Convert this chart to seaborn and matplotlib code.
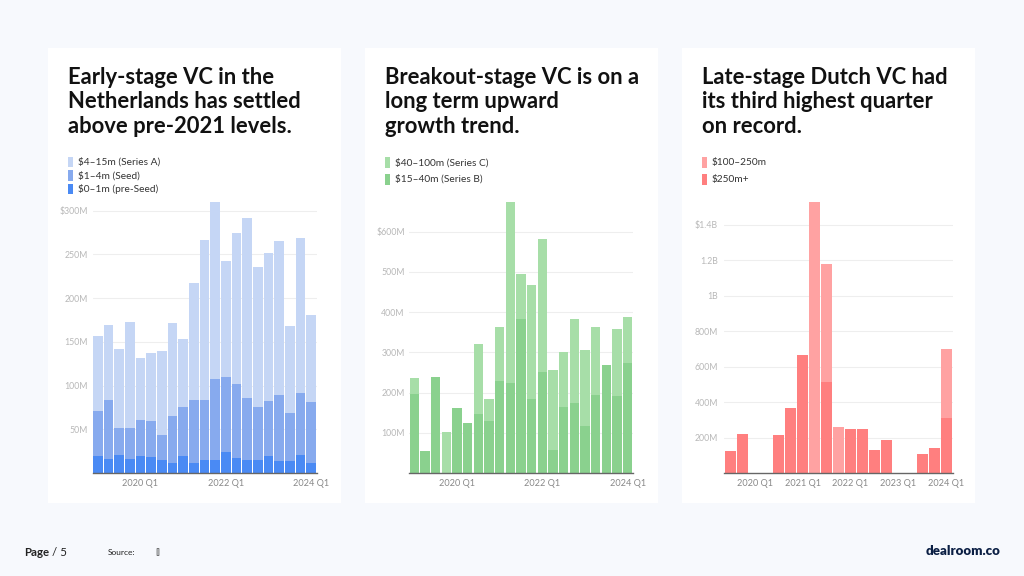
import matplotlib
matplotlib.use("Agg")
import matplotlib.pyplot as plt
from matplotlib.patches import Rectangle
import seaborn as sns

# ---------------- data ----------------
early_quarters = ["2019 Q1", "2019 Q2", "2019 Q3", "2019 Q4", "2020 Q1", "2020 Q2", "2020 Q3",
                  "2020 Q4", "2021 Q1", "2021 Q2", "2021 Q3", "2021 Q4", "2022 Q1", "2022 Q2",
                  "2022 Q3", "2022 Q4", "2023 Q1", "2023 Q2", "2023 Q3", "2023 Q4", "2024 Q1"]
pre_seed = [20, 16, 21, 16, 19, 18, 15, 11, 20, 12, 15, 15, 24, 17, 15, 15, 20, 14, 14, 21, 12]
seed = [51, 68, 30, 36, 42, 42, 29, 54, 55, 72, 69, 92, 86, 85, 71, 60, 62, 75, 55, 71, 69]
series_a = [86, 85, 91, 121, 70, 77, 96, 106, 78, 133, 182, 203, 132, 173, 206, 161, 170, 176, 99, 177, 100]

series_b = [197, 55, 239, 0, 162, 124, 147, 130, 229, 224, 384, 185, 252, 58, 163, 173, 118, 193, 269, 192, 274]
series_c = [40, 0, 0, 103, 0, 0, 173, 55, 133, 450, 111, 283, 329, 197, 138, 209, 187, 169, 0, 166, 113]

late_quarters = ["2019 Q3", "2019 Q4", "2020 Q1", "2020 Q2", "2020 Q3", "2020 Q4", "2021 Q1",
                 "2021 Q2", "2021 Q3", "2021 Q4", "2022 Q1", "2022 Q2", "2022 Q3", "2022 Q4",
                 "2023 Q1", "2023 Q2", "2023 Q3", "2023 Q4", "2024 Q1"]
mega_250 = [128, 220, 0, 0, 216, 367, 665, 0, 517, 0, 248, 252, 132, 186, 0, 0, 111, 141, 314]
large_100_250 = [0, 0, 0, 0, 0, 0, 0, 1532, 661, 259, 0, 0, 0, 0, 0, 0, 0, 0, 387]

titles = ["Early-stage VC in the\nNetherlands has settled\nabove pre-2021 levels.",
          "Breakout-stage VC is on a\nlong term upward\ngrowth trend.",
          "Late-stage Dutch VC had\nits third highest quarter\non record."]

legend1 = ["$4\u201315m (Series A)", "$1\u20134m (Seed)", "$0\u20131m (pre-Seed)"]
legend2 = ["$40\u2013100m (Series C)", "$15\u201340m (Series B)"]
legend3 = ["$100\u2013250m", "$250m+"]

ticks1 = [50, 100, 150, 200, 250, 300]
ticklabels1 = ["50M", "100M", "150M", "200M", "250M", "$300M"]
ticks2 = [100, 200, 300, 400, 500, 600]
ticklabels2 = ["100M", "200M", "300M", "400M", "500M", "$600M"]
ticks3 = [200, 400, 600, 800, 1000, 1200, 1400]
ticklabels3 = ["200M", "400M", "600M", "800M", "1B", "1.2B", "$1.4B"]

xlabels1 = ["2020 Q1", "2022 Q1", "2024 Q1"]
xlabels3 = ["2020 Q1", "2021 Q1", "2022 Q1", "2023 Q1", "2024 Q1"]

# ---------------- style ----------------
sns.set_theme(style="white")
plt.rcParams["font.family"] = ["Lato", "DejaVu Sans"]
plt.rcParams["text.parse_math"] = False

W, H = 1024, 576
BG = "#f7f9fd"
fig = plt.figure(figsize=(W / 100, H / 100), dpi=100, facecolor=BG)


def fx(px):
    return px / W


def fy(py):
    return 1 - py / H


# cards
for left in (48, 365, 682):
    fig.patches.append(Rectangle((fx(left), fy(503)), fx(293), 455 / H, transform=fig.transFigure,
                                 facecolor="white", edgecolor="none", zorder=-5))


def make_axes(left, right, bottom, top):
    return fig.add_axes([fx(left), fy(bottom), fx(right - left), (bottom - top) / H])


def style_axes(ax, ticks, ticklabels, xpos, xlabels, ytop, xlim, ypad):
    ax.set_facecolor("none")
    ax.set_ylim(0, ytop)
    ax.set_xlim(*xlim)
    ax.set_yticks(ticks)
    ax.set_yticklabels(ticklabels)
    ax.set_xticks(xpos)
    ax.set_xticklabels(xlabels)
    ax.set_xlabel("")
    ax.set_ylabel("")
    for s in ("top", "right", "left"):
        ax.spines[s].set_visible(False)
    ax.spines["bottom"].set_color("#666666")
    ax.spines["bottom"].set_linewidth(1.0)
    ax.spines["bottom"].set_zorder(5)
    ax.tick_params(axis="y", length=0, pad=ypad, labelsize=6.3, labelcolor="#b8b8b8")
    ax.tick_params(axis="x", length=0, pad=4, labelsize=6.6, labelcolor="#888888")
    ax.yaxis.grid(True, color="#eeeeee", linewidth=0.8)
    ax.xaxis.grid(False)
    ax.set_axisbelow(True)


def legend(x, y0, dy, labels, colors):
    for i, (lab, col) in enumerate(zip(labels, colors)):
        yc = y0 + i * dy
        fig.patches.append(Rectangle((fx(x), fy(yc + 5.3)), fx(5), 10.6 / H, transform=fig.transFigure,
                                     facecolor=col, edgecolor="none", zorder=3))
        fig.text(fx(x + 10), fy(yc), lab, fontsize=7.3, color="#333333", va="center", ha="left")


def title(x, text):
    fig.text(fx(x), fy(67), text, fontsize=15.8, fontweight="bold", color="#111111",
             va="top", ha="left", linespacing=1.2)


# ---------------- panel 1 ----------------
c_a, c_seed, c_pre = "#c5d6f5", "#87aaee", "#4a8af4"
ax1 = make_axes(92.5, 316.5, 473, 473 - 320 * 0.8743)
tot1 = [a + b + c for a, b, c in zip(pre_seed, seed, series_a)]
mid1 = [a + b for a, b in zip(pre_seed, seed)]
for vals, col in ((tot1, c_a), (mid1, c_seed), (pre_seed, c_pre)):
    sns.barplot(x=early_quarters, y=vals, order=early_quarters, color=col, saturation=1,
                width=0.9, linewidth=0, errorbar=None, ax=ax1)
style_axes(ax1, ticks1, ticklabels1, [early_quarters.index(q) for q in xlabels1], xlabels1,
           320, (-0.5, len(early_quarters) - 0.5), 3.2)
title(68, titles[0])
legend(68, 162, 13.5, legend1, [c_a, c_seed, c_pre])

# ---------------- panel 2 ----------------
c_c, c_b = "#a7dea8", "#8ad18e"
ax2 = make_axes(409, 633, 473, 473 - 700 * 0.4022)
tot2 = [b + c for b, c in zip(series_b, series_c)]
for vals, col in ((tot2, c_c), (series_b, c_b)):
    sns.barplot(x=early_quarters, y=vals, order=early_quarters, color=col, saturation=1,
                width=0.9, linewidth=0, errorbar=None, ax=ax2)
style_axes(ax2, ticks2, ticklabels2, [early_quarters.index(q) for q in xlabels1], xlabels1,
           700, (-0.5, len(early_quarters) - 0.5), 3.0)
title(385, titles[1])
legend(385, 162.5, 16.7, legend2, [c_c, c_b])

# ---------------- panel 3 ----------------
c_l, c_m = "#ffa2a2", "#ff7f7f"
ax3 = make_axes(724, 953, 473.3, 473.3 - 1600 * 0.17736)
tot3 = [a + b for a, b in zip(mega_250, large_100_250)]
for vals, col in ((tot3, c_l), (mega_250, c_m)):
    sns.barplot(x=late_quarters, y=vals, order=late_quarters, color=col, saturation=1,
                width=0.86, linewidth=0, errorbar=None, ax=ax3)
style_axes(ax3, ticks3, ticklabels3, [late_quarters.index(q) for q in xlabels3], xlabels3,
           1600, (-0.55, len(late_quarters) - 0.45), 4.3)
title(702, titles[2])
legend(702, 162.5, 16.7, legend3, [c_l, c_m])

# ---------------- footer ----------------
fig.text(fx(24), fy(556), "Page", fontsize=8.3, fontweight="bold", color="#222222", va="baseline")
fig.text(fx(52), fy(556), "/ 5", fontsize=8.3, color="#222222", va="baseline")
fig.text(fx(108), fy(555), "Source:", fontsize=6, color="#222222", va="baseline")
fig.text(fx(155), fy(555), "[]", fontsize=6, color="#222222", va="baseline")
fig.text(fx(1001), fy(551), "dealroom.co", fontsize=9.5, fontweight="heavy", color="#0b1f44",
         va="center", ha="right")

fig.savefig("out.png", dpi=100, facecolor=BG)
